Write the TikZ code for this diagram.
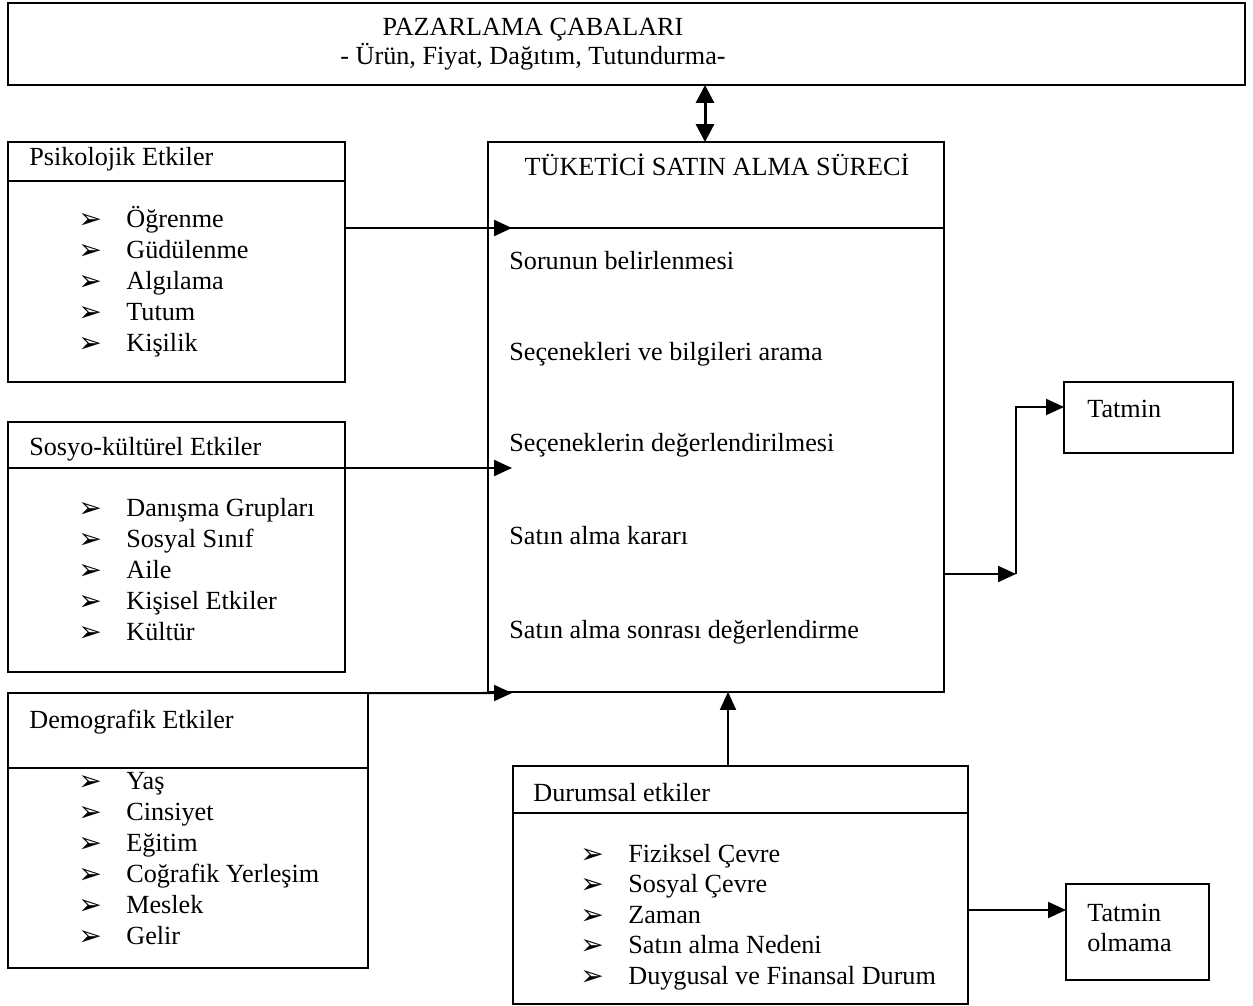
\documentclass[tikz,border=0pt]{standalone}
\usepackage{fontspec}
\setmainfont{Liberation Serif}
\newfontfamily\dejavu{DejaVu Sans}
\usetikzlibrary{arrows.meta, calc}

\tikzset{
  box/.style={draw, line width=1pt, inner sep=0pt, outer sep=0pt},
  lbl/.style={anchor=base west, inner sep=0pt},
  bul/.style={anchor=base west, inner sep=0pt, font=\dejavu\fontsize{16}{16}\selectfont},
  arr/.style={line width=1.15pt, -{Triangle[length=0.36cm, width=0.32cm]}},
  dblarr/.style={line width=1.7pt, {Triangle[length=0.36cm, width=0.36cm]}-{Triangle[length=0.36cm, width=0.36cm]}}
}

% bullet item: name, bullet x, baseline y, text
\newcommand{\itm}[4]{%
  \node[bul] at (#2-2,#3+1) {➢};
  \node[lbl] (#1) at (#2+46,#3) {#4};}

\begin{document}
\begin{tikzpicture}[x=0.02cm, y=-0.02cm, font=\fontsize{14.9}{17.6}\selectfont]
    \useasboundingbox (0,0) rectangle (1253,1006);

    % 1. Marketing efforts (top)
    \node[box, minimum width=24.74cm, minimum height=1.64cm] (paz) at (626.5,44) {};
    \node[lbl, anchor=base] (paz1) at (533,36) {PAZARLAMA ÇABALARI};
    \node[lbl, anchor=base] (paz2) at (533,65) {- Ürün, Fiyat, Dağıtım, Tutundurma-};

    % 2. Purchase process (centre)
    \node[box, minimum width=9.12cm, minimum height=11cm] (main) at (716,417) {};
    \node[lbl, anchor=base] (ttl) at (717,176) {TÜKETİCİ SATIN ALMA SÜRECİ};
    \draw[line width=1pt] (main.west |- 0,228) -- (main.east |- 0,228);
    \node[lbl] (s1) at (509,270) {Sorunun belirlenmesi};
    \node[lbl] (s2) at (509,361) {Seçenekleri ve bilgileri arama};
    \node[lbl] (s3) at (509,451) {Seçeneklerin değerlendirilmesi};
    \node[lbl] (s4) at (509,544) {Satın alma kararı};
    \node[lbl] (s5) at (509,638) {Satın alma sonrası değerlendirme};

    % 3. Psychological
    \node[box, minimum width=6.74cm, minimum height=4.8cm] (psik) at (176.5,262) {};
    \node[lbl] (psikh) at (29,166) {Psikolojik Etkiler};
    \draw[line width=1pt] (psik.west |- 0,181) -- (psik.east |- 0,181);
    \itm{p1}{80}{228}{Öğrenme}
    \itm{p2}{80}{259}{Güdülenme}
    \itm{p3}{80}{290}{Algılama}
    \itm{p4}{80}{321}{Tutum}
    \itm{p5}{80}{352}{Kişilik}

    % 4. Socio-cultural
    \node[box, minimum width=6.74cm, minimum height=5cm] (sosyo) at (176.5,547) {};
    \node[lbl] (sosyoh) at (29,455) {Sosyo-kültürel Etkiler};
    \draw[line width=1pt] (sosyo.west |- 0,468) -- (sosyo.east |- 0,468);
    \itm{k1}{80}{516}{Danışma Grupları}
    \itm{k2}{80}{547}{Sosyal Sınıf}
    \itm{k3}{80}{578}{Aile}
    \itm{k4}{80}{609}{Kişisel Etkiler}
    \itm{k5}{80}{640}{Kültür}

    % 5. Demographic
    \node[box, minimum width=7.2cm, minimum height=5.5cm] (demo) at (188,830.5) {};
    \node[lbl] (demoh) at (29,728) {Demografik Etkiler};
    \draw[line width=1pt] (demo.west |- 0,768) -- (demo.east |- 0,768);
    \itm{d1}{80}{789.5}{Yaş}
    \itm{d2}{80}{820.5}{Cinsiyet}
    \itm{d3}{80}{851.5}{Eğitim}
    \itm{d4}{80}{882.5}{Coğrafik Yerleşim}
    \itm{d5}{80}{913.5}{Meslek}
    \itm{d6}{80}{944.5}{Gelir}

    % 6. Situational
    \node[box, minimum width=9.1cm, minimum height=4.76cm] (dur) at (740.5,885) {};
    \node[lbl] (durh) at (533,801) {Durumsal etkiler};
    \draw[line width=1pt] (dur.west |- 0,813) -- (dur.east |- 0,813);
    \itm{u1}{582}{862}{Fiziksel Çevre}
    \itm{u2}{582}{892.5}{Sosyal Çevre}
    \itm{u3}{582}{923}{Zaman}
    \itm{u4}{582}{953.5}{Satın alma Nedeni}
    \itm{u5}{582}{984}{Duygusal ve Finansal Durum}

    % 7. Outcomes
    \node[box, minimum width=3.38cm, minimum height=1.42cm] (tatmin) at (1148.5,417.5) {};
    \node[lbl] (tatminl) at (1087,418) {Tatmin};
    \node[box, minimum width=2.86cm, minimum height=1.92cm] (olmama) at (1137.5,932) {};
    \node[lbl] (olmama1) at (1087,921) {Tatmin};
    \node[lbl] (olmama2) at (1087,951) {olmama};

    % 8. Connectors
    \coordinate (in1) at (512,228);
    \coordinate (in2) at (512,468);
    \coordinate (in3) at (512,693);
    \coordinate (split) at (1016,574);
    \coordinate (up) at (1016,407);
    \coordinate (lo) at (1066,910);
    \draw[dblarr] (paz.south -| 705,0) -- (main.north -| 705,0);
    \draw[arr] (psik.east |- in1) -- (in1);
    \draw[arr] (sosyo.east |- in2) -- (in2);
    \draw[arr] (demo.north east) -- (in3);
    \draw[arr] (dur.north -| 728,0) -- (main.south -| 728,0);
    \draw[arr] (main.east |- split) -- (split);
    \draw[arr] (split) -- (up) -- (up -| tatmin.west);
    \draw[arr] (dur.east |- lo) -- (lo);

\end{tikzpicture}
\end{document}
